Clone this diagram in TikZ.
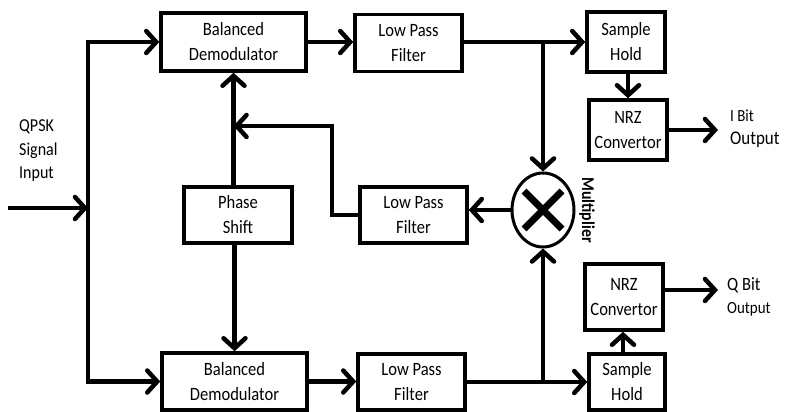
\documentclass[tikz,border=0pt]{standalone}
\usepackage{fontspec}
\setmainfont{Carlito}[FakeStretch=0.88]
\usetikzlibrary{arrows.meta,shapes.geometric}
\begin{document}
\begin{tikzpicture}[x=1pt,y=-1pt,
  blk/.style={draw, line width=3.5pt, inner sep=0pt, align=center, font=\fontsize{18.8}{25}\selectfont},
  ln/.style={line width=4.5pt, line cap=rect},
  arr/.style={line width=4.5pt, line cap=rect, -{Straight Barb[length=10pt,width=22pt,line cap=round]}},
  lbl/.style={anchor=west, align=left, inner sep=0pt}
]
\useasboundingbox (0,0) rectangle (785,412);

% blocks
\node[blk, minimum width=145pt, minimum height=58pt] (bd1) at (233.5,42) {Balanced\\Demodulator};
\node[blk, minimum width=107pt, minimum height=57pt] (lpf1) at (408.5,43) {Low Pass\\Filter};
\node[blk, minimum width=78pt, minimum height=60pt] (sh1) at (626,42) {Sample\\Hold};
\node[blk, minimum width=78pt, minimum height=60pt] (nrz1) at (628,130) {NRZ\\Convertor};
\node[blk, minimum width=108pt, minimum height=56pt] (ps) at (238,215) {Phase\\Shift};
\node[blk, minimum width=107pt, minimum height=56pt] (lpf2) at (413.5,215) {Low Pass\\Filter};
\node[draw, ellipse, line width=3pt, minimum width=62pt, minimum height=74pt, inner sep=0pt] (mult) at (543,210) {};
\node[blk, minimum width=145pt, minimum height=57pt] (bd2) at (234.5,381.5) {Balanced\\Demodulator};
\node[blk, minimum width=107pt, minimum height=56pt] (lpf3) at (411.5,382) {Low Pass\\Filter};
\node[blk, minimum width=76pt, minimum height=56pt] (sh2) at (627,382) {Sample\\Hold};
\node[blk, minimum width=78pt, minimum height=66pt] (nrz2) at (624,297) {NRZ\\Convertor};

% multiplier cross and label
\draw[line width=7pt] ([shift={(-19,-19)}]mult.center) -- ([shift={(19,19)}]mult.center);
\draw[line width=7pt] ([shift={(-19,19)}]mult.center) -- ([shift={(19,-19)}]mult.center);
\node[rotate=-90, inner sep=0pt, font=\bfseries\fontsize{18}{18}\selectfont] (multlbl) at (587,210) {Multiplier};

% labels
\node[lbl, font=\fontsize{18.2}{23.5}\selectfont] (qpsk) at (19,151) {QPSK\\Signal\\Input};
\node[lbl, font=\fontsize{19.3}{23}\selectfont] (iout) at (730,129) {{\fontsize{17}{17}\selectfont I Bit}\\Output};
\node[lbl, font=\fontsize{18.8}{23}\selectfont] (qout) at (727,297) {Q Bit\\{\fontsize{17}{17}\selectfont Output}};

% coordinates
\coordinate (in) at (10,208);
\coordinate (busT) at (88,42);
\coordinate (fbk) at (332,126);
\coordinate (iend) at (718,130);
\coordinate (qend) at (718,290);

% input and bus
\draw[arr] (in) -- (in -| busT);
\draw[arr] (bd2.west -| busT) -- (busT) -- (bd1.west);
\draw[arr] (bd2.west -| busT) -- (bd2.west);

% top row
\draw[arr] (bd1.east) -- (bd1.east -| lpf1.west);
\draw[arr] (lpf1.east |- sh1.west) -- (sh1.west);
\draw[arr] (mult.north |- sh1.west) -- (mult.north);
\draw[arr] (sh1.south -| nrz1.north) -- (nrz1.north);
\draw[arr] (nrz1.east) -- (iend);

% bottom row
\draw[arr] (bd2.east) -- (bd2.east -| lpf3.west);
\draw[arr] (lpf3.east |- sh2.west) -- (sh2.west);
\draw[arr] (mult.south |- sh2.west) -- (mult.south);
\draw[arr] ([xshift=-4pt]sh2.north) -- ([xshift=-4pt]sh2.north |- nrz2.south);
\draw[arr] (nrz2.east |- qend) -- (qend);

% phase shift
\draw[arr] (bd1.south |- ps.north) -- (bd1.south);
\draw[arr] (bd2.north |- ps.south) -- (bd2.north);

% feedback loop
\draw[arr] (mult.west) -- (mult.west -| lpf2.east);
\draw[arr] (lpf2.west) -- (lpf2.west -| fbk) -- (fbk) -- (fbk -| bd1.south);
\end{tikzpicture}
\end{document}
